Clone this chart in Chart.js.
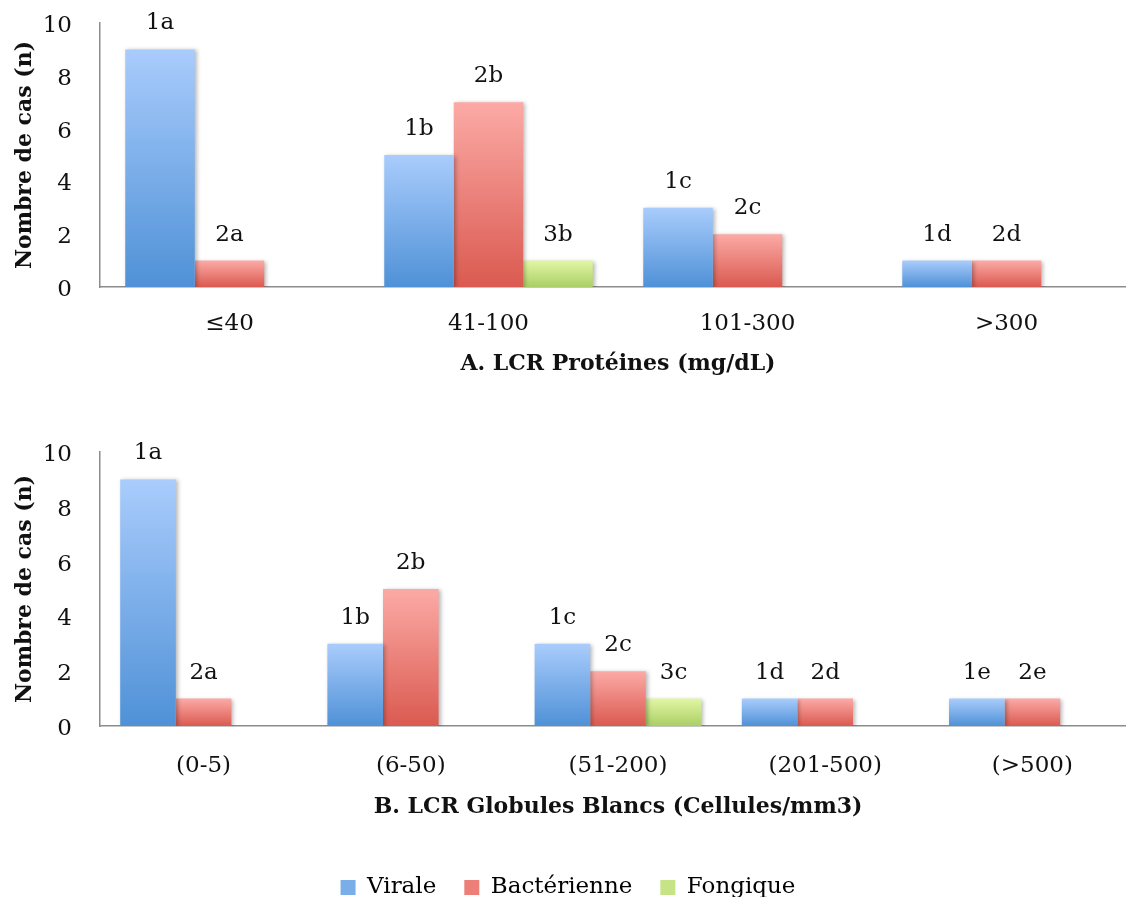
<!DOCTYPE html>
<html lang="fr">
<head>
<meta charset="UTF-8">
<title>LCR - Nombre de cas</title>
<script src="https://cdn.jsdelivr.net/npm/chart.js"></script>
<style>
    body {
        margin: 0;
        width: 1126px;
        height: 897px;
        overflow: hidden;
        background: #ffffff;
        position: relative;
    }
    .box {
        position: absolute;
        left: 0;
    }
</style>
</head>
<body>
<div class="box" style="top:0px"><canvas id="chartA" width="1136" height="377"></canvas></div>
<div class="box" style="top:429px"><canvas id="chartB" width="1136" height="480"></canvas></div>

<script>
// A. LCR Protéines (mg/dL)
const proteinCats = ['≤40', '41-100', '101-300', '>300'];
const proteinViral = [9, 5, 3, 1];
const proteinBact = [1, 7, 2, 1];
const proteinFong = [null, 1, null, null];

// B. LCR Globules Blancs (Cellules/mm3)
const wbcCats = ['(0-5)', '(6-50)', '(51-200)', '(201-500)', '(>500)'];
const wbcViral = [9, 3, 3, 1, 1];
const wbcBact = [1, 5, 2, 1, 1];
const wbcFong = [null, null, 1, null, null];

const yTicks = [0, 2, 4, 6, 8, 10];

const FONT = "'DejaVu Serif', serif";
const AXIS = '#8c8c8c';
const colors = {
    viral: ['#a9ccfc', '#4f91d7', '#7aaee8'],
    bact: ['#fcaaa6', '#da5a50', '#ec8079'],
    fong: ['#e2f6a6', '#aacf64', '#c6e386']
};

function barGradient(c) {
    return function (ctx) {
        const chart = ctx.chart;
        if (!chart.chartArea || ctx.raw == null) return c[2];
        const ys = chart.scales.y;
        const top = ys.getPixelForValue(ctx.raw);
        const base = ys.getPixelForValue(0);
        const g = chart.ctx.createLinearGradient(0, top, 0, base);
        g.addColorStop(0, c[0]);
        g.addColorStop(1, c[1]);
        return g;
    };
}

// soft shadow under bars + "1a", "2b"... labels above each bar
const barExtras = {
    id: 'barExtras',
    beforeDatasetsDraw(chart) {
        const ctx = chart.ctx;
        ctx.save();
        ctx.shadowColor = 'rgba(0,0,0,0.28)';
        ctx.shadowBlur = 4;
        ctx.shadowOffsetX = 2;
        ctx.shadowOffsetY = 1;
    },
    afterDatasetsDraw(chart) {
        const ctx = chart.ctx;
        ctx.restore();
        ctx.save();
        ctx.font = '23px ' + FONT;
        ctx.fillStyle = '#111';
        ctx.textAlign = 'center';
        ctx.textBaseline = 'middle';
        chart.data.datasets.forEach((ds, di) => {
            const meta = chart.getDatasetMeta(di);
            meta.data.forEach((bar, i) => {
                if (ds.data[i] == null) return;
                ctx.fillText((di + 1) + 'abcde'[i], bar.x, bar.y - 26);
            });
        });
        ctx.restore();
    }
};

function makeChart(id, cats, viral, bact, fong, title, withLegend, xHeight, titlePad, tickPad) {
    return new Chart(document.getElementById(id), {
        type: 'bar',
        data: {
            labels: cats,
            datasets: [
                { label: 'Virale', data: viral, backgroundColor: barGradient(colors.viral) },
                { label: 'Bactérienne', data: bact, backgroundColor: barGradient(colors.bact) },
                { label: 'Fongique', data: fong, backgroundColor: barGradient(colors.fong) }
            ]
        },
        options: {
            responsive: false,
            animation: false,
            layout: { padding: { top: 23, left: 0, right: 0, bottom: 0 } },
            datasets: { bar: { categoryPercentage: 0.805, barPercentage: 1, borderWidth: 0 } },
            scales: {
                x: {
                    grid: { display: false, drawTicks: false },
                    border: { color: AXIS, width: 1.5 },
                    ticks: { color: '#111', font: { family: FONT, size: 23 }, padding: tickPad },
                    title: {
                        display: true, text: title, color: '#111',
                        font: { family: FONT, size: 22, weight: 'bold' },
                        padding: { top: 0, bottom: titlePad }
                    },
                    afterFit(s) { s.height = xHeight; }
                },
                y: {
                    min: 0, max: 10,
                    grid: { display: false, drawTicks: false },
                    border: { color: AXIS, width: 1.5 },
                    afterBuildTicks(s) { s.ticks = yTicks.map(v => ({ value: v })); },
                    ticks: { color: '#111', font: { family: FONT, size: 23 }, padding: 28, labelOffset: 3 },
                    title: {
                        display: true, text: 'Nombre de cas (n)', color: '#111',
                        font: { family: FONT, size: 22, weight: 'bold' },
                        padding: { top: 12, bottom: 0 }
                    },
                    afterFit(s) {
                        s.width = 100;
                        s.paddingTop = 0;
                        s.paddingBottom = 0;
                    }
                }
            },
            plugins: {
                tooltip: { enabled: false },
                legend: {
                    display: withLegend,
                    position: 'bottom',
                    labels: {
                        color: '#111',
                        font: { family: FONT, size: 23 },
                        boxWidth: 15,
                        boxHeight: 15,
                        padding: 28,
                        generateLabels(chart) {
                            const keys = ['viral', 'bact', 'fong'];
                            return chart.data.datasets.map((ds, i) => ({
                                text: ds.label,
                                fillStyle: colors[keys[i]][2],
                                strokeStyle: colors[keys[i]][2],
                                lineWidth: 0,
                                datasetIndex: i
                            }));
                        }
                    }
                }
            }
        },
        plugins: [barExtras]
    });
}

makeChart('chartA', proteinCats, proteinViral, proteinBact, proteinFong, 'A. LCR Protéines (mg/dL)', false, 90, 0, 23);
makeChart('chartB', wbcCats, wbcViral, wbcBact, wbcFong, 'B. LCR Globules Blancs (Cellules/mm3)', true, 122, 28, 26);
</script>
</body>
</html>
